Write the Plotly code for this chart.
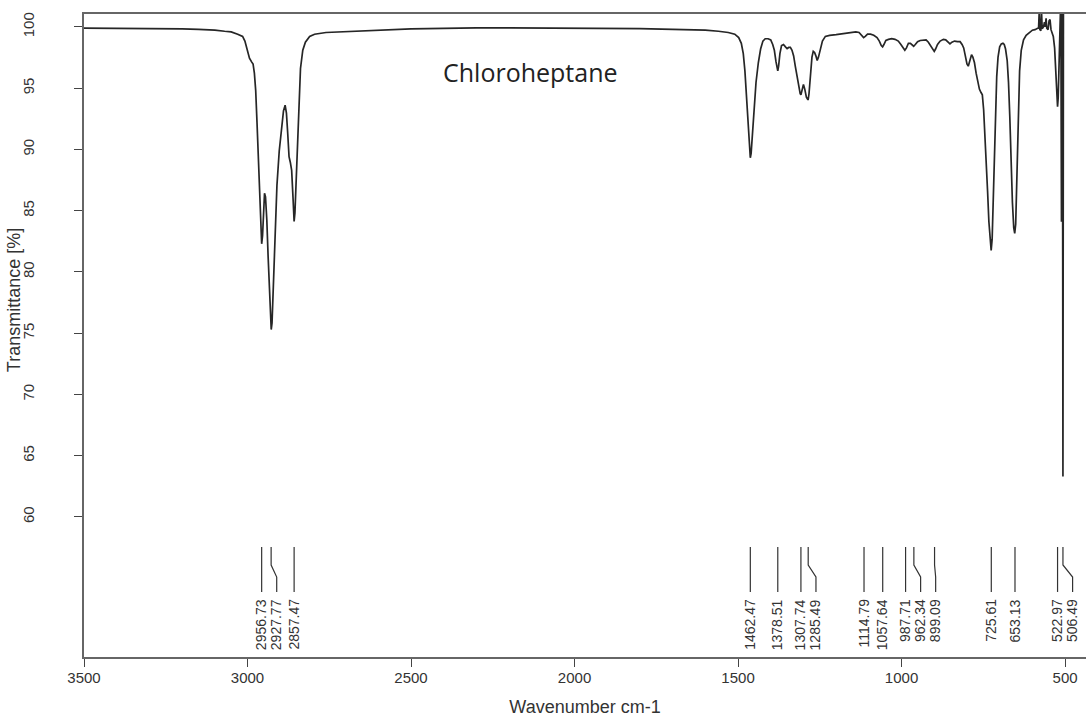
import plotly.graph_objects as go

# ---------------- data ----------------
wavenumber = [
    3500, 3450, 3400, 3300, 3200, 3150, 3100, 3070, 3050, 3030, 3015, 3008, 3000, 2994, 2988,
    2983, 2979, 2975, 2971, 2967, 2963, 2959, 2956.7, 2954, 2951, 2948, 2945, 2941, 2937, 2933,
    2929, 2927.5, 2925, 2921, 2916, 2910, 2903, 2896, 2890, 2885, 2881, 2877, 2873, 2869, 2865,
    2861, 2857.5, 2855, 2852, 2848, 2843, 2838, 2831, 2823, 2810, 2795, 2760, 2720, 2680, 2640,
    2600, 2550, 2500, 2450, 2400, 2300, 2200, 2100, 2000, 1900, 1800, 1700, 1600, 1560, 1530,
    1510, 1498, 1490, 1484, 1479, 1475, 1471, 1467, 1464, 1462.5, 1460, 1456, 1451, 1445, 1438,
    1431, 1424, 1417, 1408, 1400, 1394, 1389, 1384, 1380, 1378.5, 1376, 1372, 1367, 1361, 1355,
    1350, 1345, 1340, 1335, 1330, 1325, 1319, 1314, 1310, 1307.7, 1304, 1300, 1296, 1291, 1287,
    1285.5, 1283, 1279, 1274, 1270, 1266, 1262, 1258, 1254, 1249, 1242, 1233, 1220, 1200, 1180,
    1160, 1140, 1130, 1122, 1116, 1111, 1104, 1095, 1085, 1075, 1068, 1062, 1058, 1054, 1048,
    1040, 1030, 1020, 1010, 1002, 995, 990, 985, 979, 973, 968, 963, 958, 951, 943,
    933, 925, 918, 911, 905, 900, 896, 890, 882, 872, 865, 858, 852, 846, 838,
    829, 821, 815, 810, 805, 800, 796, 791, 786, 782, 777, 772, 767, 762, 757,
    753, 749, 745, 741, 737, 733, 729, 726, 723, 720, 717, 713, 709, 705, 700,
    695, 690, 686, 682, 677, 673, 669, 665, 661, 657, 654, 651, 648, 645, 642,
    639, 634, 627, 619, 610, 600, 592, 588, 584, 581, 579, 577, 574, 572, 570,
    566, 563, 561, 558, 556, 552, 549, 546, 543, 540, 536, 532, 529, 526, 523,
    521, 519, 517, 515, 513, 511, 509.5, 508, 506.5, 505, 495, 460,
]
transmittance = [
    99.9, 99.9, 99.88, 99.88, 99.85, 99.8, 99.75, 99.65, 99.6, 99.41, 99.23, 98.85, 98.1, 97.45, 97.17,
    96.98, 96.23, 94.83, 92.22, 89.13, 86.14, 83.52, 82.3, 82.96, 85.2, 86.42, 86.14, 84.27, 81.28, 78.2,
    75.5, 75.3, 75.85, 79.13, 83.34, 87.07, 89.88, 91.94, 93.15, 93.62, 92.96, 91.28, 89.41, 88.94, 88.29,
    86.14, 84.12, 84.83, 87.07, 90.35, 94.08, 96.61, 98.1, 98.76, 99.23, 99.41, 99.55, 99.6, 99.6, 99.65,
    99.74, 99.8, 99.85, 99.87, 99.9, 99.92, 99.92, 99.92, 99.9, 99.9, 99.87, 99.8, 99.74, 99.65, 99.55,
    99.41, 99.13, 98.67, 97.83, 96.42, 94.55, 92.5, 90.63, 89.5, 89.32, 89.69, 91.28, 93.43, 95.49, 97.08,
    98.2, 98.85, 99.04, 99.04, 98.95, 98.57, 98.1, 97.17, 96.51, 96.42, 96.8, 97.83, 98.48, 98.57, 98.38,
    98.24, 98.33, 98.33, 98.1, 97.64, 96.8, 95.77, 95.02, 94.55, 94.46, 94.93, 95.3, 94.93, 94.27, 94.08,
    94.08, 94.55, 95.95, 97.54, 98.01, 97.92, 97.64, 97.26, 97.54, 98.2, 98.85, 99.23, 99.32, 99.37, 99.46,
    99.55, 99.6, 99.55, 99.32, 99.13, 99.23, 99.41, 99.41, 99.32, 99.13, 98.85, 98.48, 98.38, 98.57, 98.9,
    98.99, 99.04, 98.99, 98.85, 98.57, 98.24, 98.1, 98.29, 98.67, 98.67, 98.57, 98.43, 98.57, 98.8, 98.9,
    98.95, 98.95, 98.76, 98.48, 98.15, 98.01, 98.2, 98.57, 98.85, 98.99, 98.95, 98.76, 98.62, 98.76, 98.85,
    98.8, 98.8, 98.57, 98.29, 97.64, 96.98, 96.8, 97.26, 97.73, 97.54, 97.08, 96.23, 95.49, 94.93, 94.65,
    94.46, 93.24, 91.28, 88.94, 86.61, 84.12, 82.4, 81.75, 82.68, 85.67, 89.41, 93.15, 95.95, 97.54, 98.38,
    98.62, 98.67, 98.57, 98.2, 97.26, 95.49, 92.68, 88.94, 85.67, 83.62, 83.15, 83.9, 86.61, 90.35, 93.9,
    96.42, 98.1, 98.95, 99.32, 99.55, 99.74, 99.78, 99.87, 99.9, 99.92, 101.3, 99.78, 99.7, 101.3, 99.85,
    100.0, 100.4, 100.0, 100.7, 99.9, 99.78, 100.5, 100.6, 99.78, 99.5, 99.23, 98.29, 96.89, 95.02, 93.5,
    94.22, 97.36, 100.6, 102.5, 102.5, 84.1, 102.0, 102.0, 63.3, 102.5, 103.0, 103.0,
]

peak_wn = [2956.73, 2927.77, 2857.47, 1462.47, 1378.51, 1307.74, 1285.49, 1114.79,
           1057.64, 987.71, 962.34, 899.09, 725.61, 653.13, 522.97, 506.49]
peak_labels = ["2956.73", "2927.77", "2857.47", "1462.47", "1378.51", "1307.74", "1285.49", "1114.79",
               "1057.64", "987.71", "962.34", "899.09", "725.61", "653.13", "522.97", "506.49"]

x_ticks = [3500, 3000, 2500, 2000, 1500, 1000, 500]
y_ticks = [60, 65, 70, 75, 80, 85, 90, 95, 100]
compound = "Chloroheptane"
x_title = "Wavenumber cm-1"
y_title = "Transmittance [%]"

# ---------------- layout constants ----------------
X_RANGE = [3500, 436]
Y_RANGE = [48.57, 101.06]
LABEL_GAP = 46          # minimum label spacing in cm-1
Y_TOP, Y_B1, Y_B2, Y_BOT, Y_TEXT = 57.55, 56.08, 55.10, 53.88, 53.47
FONT = "Liberation Sans, Arial, Helvetica, sans-serif"

fig = go.Figure()

fig.add_trace(go.Scatter(
    x=wavenumber, y=transmittance, mode="lines",
    line=dict(color="#262626", width=1.7),
    hoverinfo="skip", showlegend=False,
))

# peak label positions (spread to avoid overlap)
label_x = []
prev = None
for p in peak_wn:
    lx = p if prev is None else min(p, prev - LABEL_GAP)
    label_x.append(lx)
    prev = lx

cx, cy = [], []
for p, lx in zip(peak_wn, label_x):
    cx += [p, p, lx, lx, None]
    cy += [Y_TOP, Y_B1, Y_B2, Y_BOT, None]
fig.add_trace(go.Scatter(
    x=cx, y=cy, mode="lines", line=dict(color="#333333", width=1.2),
    hoverinfo="skip", showlegend=False,
))

for lx, txt in zip(label_x, peak_labels):
    fig.add_annotation(
        x=lx, y=Y_TEXT, text=txt, showarrow=False, textangle=-90,
        xanchor="center", yanchor="top",
        font=dict(family=FONT, size=14, color="#333333"),
    )

fig.add_annotation(
    x=2134, y=96.3, text=compound, showarrow=False,
    font=dict(family="Open Sans, Noto Sans, sans-serif", size=25, color="#222222"),
)

# y-axis title (placed beside the upper-middle part of the axis)
fig.add_annotation(
    xref="paper", yref="paper", x=0, y=0.555, xshift=-70,
    text=y_title, showarrow=False, textangle=-90,
    xanchor="center", yanchor="middle",
    font=dict(family=FONT, size=18, color="#333333"),
)

fig.update_layout(
    width=1086, height=726,
    margin=dict(l=84, r=0, t=14, b=69),
    paper_bgcolor="white", plot_bgcolor="white",
    font=dict(family=FONT, size=15, color="#333333"),
    showlegend=False,
)
fig.update_xaxes(
    range=X_RANGE, tickmode="array", tickvals=x_ticks,
    ticks="outside", ticklen=8, tickcolor="#444444", tickwidth=1.2,
    showline=True, linecolor="#666666", linewidth=1.6, mirror=True,
    showgrid=False, zeroline=False, ticklabelstandoff=-2,
    tickfont=dict(family=FONT, size=15, color="#333333"),
    title=dict(text=x_title, font=dict(family=FONT, size=18, color="#333333"), standoff=16),
)
fig.update_yaxes(
    range=Y_RANGE, tickmode="array", tickvals=y_ticks,
    ticks="outside", ticklen=8, tickcolor="#444444", tickwidth=1.2,
    showline=True, linecolor="#666666", linewidth=1.6, mirror=False,
    showgrid=False, zeroline=False, tickangle=-90, ticklabelstandoff=34,
    tickfont=dict(family=FONT, size=15, color="#333333"),
)

fig.write_html("out.html")
